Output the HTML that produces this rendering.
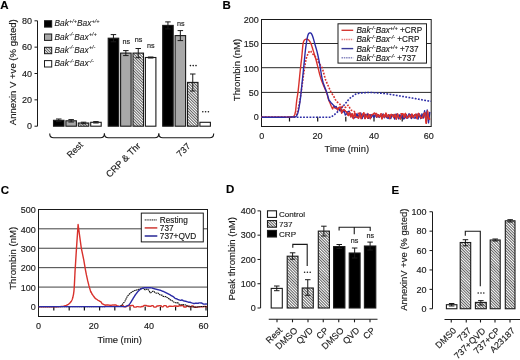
<!DOCTYPE html><html><head><meta charset="utf-8"><style>html,body{margin:0;padding:0;background:#fff;width:520px;height:360px;overflow:hidden;position:relative}</style></head><body><svg width="520" height="360" viewBox="0 0 520 360" style="position:absolute;left:0;top:0;will-change:transform">
<defs><pattern id="hatch" patternUnits="userSpaceOnUse" width="2.0" height="2.0" patternTransform="rotate(-45)"><rect width="2.0" height="2.0" fill="#fff"/><line x1="0.5" y1="0" x2="0.5" y2="2.0" stroke="#1a1a1a" stroke-width="0.7"/></pattern></defs>
<g font-family='"Liberation Sans", sans-serif' stroke-linecap="butt">
<text x="0.3" y="9.2" font-size="11.5" text-anchor="start" font-weight="bold" font-style="normal" fill="#000" stroke="#000" stroke-width="0.15">A</text>
<line x1="37.5" y1="20.8" x2="37.5" y2="126.2" stroke="#1a1a1a" stroke-width="1"/>
<line x1="34.5" y1="126.2" x2="37.5" y2="126.2" stroke="#1a1a1a" stroke-width="1"/>
<text x="32" y="129.4" font-size="9" text-anchor="end" font-weight="normal" font-style="normal" fill="#1a1a1a" stroke="#1a1a1a" stroke-width="0.15">0</text>
<line x1="34.5" y1="99.85" x2="37.5" y2="99.85" stroke="#1a1a1a" stroke-width="1"/>
<text x="32" y="103.05" font-size="9" text-anchor="end" font-weight="normal" font-style="normal" fill="#1a1a1a" stroke="#1a1a1a" stroke-width="0.15">20</text>
<line x1="34.5" y1="73.5" x2="37.5" y2="73.5" stroke="#1a1a1a" stroke-width="1"/>
<text x="32" y="76.7" font-size="9" text-anchor="end" font-weight="normal" font-style="normal" fill="#1a1a1a" stroke="#1a1a1a" stroke-width="0.15">40</text>
<line x1="34.5" y1="47.15" x2="37.5" y2="47.15" stroke="#1a1a1a" stroke-width="1"/>
<text x="32" y="50.35" font-size="9" text-anchor="end" font-weight="normal" font-style="normal" fill="#1a1a1a" stroke="#1a1a1a" stroke-width="0.15">60</text>
<line x1="34.5" y1="20.8" x2="37.5" y2="20.8" stroke="#1a1a1a" stroke-width="1"/>
<text x="32" y="24" font-size="9" text-anchor="end" font-weight="normal" font-style="normal" fill="#1a1a1a" stroke="#1a1a1a" stroke-width="0.15">80</text>
<text x="15.8" y="72.2" font-size="9.55" text-anchor="middle" font-weight="normal" font-style="normal" fill="#1a1a1a" stroke="#1a1a1a" stroke-width="0.15" transform="rotate(-90 15.8 72.2)">Annexin V +ve (% gated)</text>
<rect x="44.5" y="20.7" width="7.2" height="6.4" fill="#000" stroke="#1a1a1a" stroke-width="1"/>
<text x="54.5" y="26.2" font-size="8.4" text-anchor="start" font-weight="normal" font-style="italic" fill="#1a1a1a" stroke="#1a1a1a" stroke-width="0.08">Bak<tspan dy="-3.6" font-size="5.6">+/+</tspan><tspan dy="3.6">Bax</tspan><tspan dy="-3.6" font-size="5.6">+/+</tspan></text>
<rect x="44.5" y="34" width="7.2" height="6.4" fill="#a8a8a8" stroke="#1a1a1a" stroke-width="1"/>
<text x="54.5" y="39.5" font-size="8.4" text-anchor="start" font-weight="normal" font-style="italic" fill="#1a1a1a" stroke="#1a1a1a" stroke-width="0.08">Bak<tspan dy="-3.6" font-size="5.6">-/-</tspan><tspan dy="3.6">Bax</tspan><tspan dy="-3.6" font-size="5.6">+/+</tspan></text>
<rect x="44.5" y="47.3" width="7.2" height="6.4" fill="url(#hatch)" stroke="#1a1a1a" stroke-width="1"/>
<text x="54.5" y="52.8" font-size="8.4" text-anchor="start" font-weight="normal" font-style="italic" fill="#1a1a1a" stroke="#1a1a1a" stroke-width="0.08">Bak<tspan dy="-3.6" font-size="5.6">-/-</tspan><tspan dy="3.6">Bax</tspan><tspan dy="-3.6" font-size="5.6">+/-</tspan></text>
<rect x="44.5" y="60.6" width="7.2" height="6.4" fill="#fff" stroke="#1a1a1a" stroke-width="1"/>
<text x="54.5" y="66.1" font-size="8.4" text-anchor="start" font-weight="normal" font-style="italic" fill="#1a1a1a" stroke="#1a1a1a" stroke-width="0.08">Bak<tspan dy="-3.6" font-size="5.6">-/-</tspan><tspan dy="3.6">Bax</tspan><tspan dy="-3.6" font-size="5.6">-/-</tspan></text>
<rect x="53.5" y="120.3" width="10.5" height="5.9" fill="#000" stroke="#1a1a1a" stroke-width="1.1"/>
<line x1="58.75" y1="119" x2="58.75" y2="121.6" stroke="#1a1a1a" stroke-width="1"/>
<line x1="56" y1="119" x2="61.5" y2="119" stroke="#1a1a1a" stroke-width="1"/>
<line x1="56" y1="121.6" x2="61.5" y2="121.6" stroke="#1a1a1a" stroke-width="1"/>
<rect x="65.9" y="120.8" width="10.5" height="5.4" fill="#a8a8a8" stroke="#1a1a1a" stroke-width="1.1"/>
<line x1="71.15" y1="119.6" x2="71.15" y2="122" stroke="#1a1a1a" stroke-width="1"/>
<line x1="68.4" y1="119.6" x2="73.9" y2="119.6" stroke="#1a1a1a" stroke-width="1"/>
<line x1="68.4" y1="122" x2="73.9" y2="122" stroke="#1a1a1a" stroke-width="1"/>
<rect x="78.3" y="123" width="10.5" height="3.2" fill="url(#hatch)" stroke="#1a1a1a" stroke-width="1.1"/>
<line x1="83.55" y1="122.2" x2="83.55" y2="123.8" stroke="#1a1a1a" stroke-width="1"/>
<line x1="80.8" y1="122.2" x2="86.3" y2="122.2" stroke="#1a1a1a" stroke-width="1"/>
<line x1="80.8" y1="123.8" x2="86.3" y2="123.8" stroke="#1a1a1a" stroke-width="1"/>
<rect x="90.7" y="122.3" width="10.5" height="3.9" fill="#fff" stroke="#1a1a1a" stroke-width="1.1"/>
<line x1="95.95" y1="121.6" x2="95.95" y2="123" stroke="#1a1a1a" stroke-width="1"/>
<line x1="93.2" y1="121.6" x2="98.7" y2="121.6" stroke="#1a1a1a" stroke-width="1"/>
<line x1="93.2" y1="123" x2="98.7" y2="123" stroke="#1a1a1a" stroke-width="1"/>
<rect x="108.2" y="38.2" width="10.5" height="88" fill="#000" stroke="#1a1a1a" stroke-width="1.1"/>
<line x1="113.45" y1="34.6" x2="113.45" y2="41.8" stroke="#1a1a1a" stroke-width="1"/>
<line x1="110.7" y1="34.6" x2="116.2" y2="34.6" stroke="#1a1a1a" stroke-width="1"/>
<line x1="110.7" y1="41.8" x2="116.2" y2="41.8" stroke="#1a1a1a" stroke-width="1"/>
<rect x="120.6" y="53.1" width="10.5" height="73.1" fill="#a8a8a8" stroke="#1a1a1a" stroke-width="1.1"/>
<line x1="125.85" y1="50.6" x2="125.85" y2="55.6" stroke="#1a1a1a" stroke-width="1"/>
<line x1="123.1" y1="50.6" x2="128.6" y2="50.6" stroke="#1a1a1a" stroke-width="1"/>
<line x1="123.1" y1="55.6" x2="128.6" y2="55.6" stroke="#1a1a1a" stroke-width="1"/>
<rect x="133" y="53.1" width="10.5" height="73.1" fill="url(#hatch)" stroke="#1a1a1a" stroke-width="1.1"/>
<line x1="138.25" y1="48.5" x2="138.25" y2="57.7" stroke="#1a1a1a" stroke-width="1"/>
<line x1="135.5" y1="48.5" x2="141" y2="48.5" stroke="#1a1a1a" stroke-width="1"/>
<line x1="135.5" y1="57.7" x2="141" y2="57.7" stroke="#1a1a1a" stroke-width="1"/>
<rect x="145.4" y="57.5" width="10.5" height="68.7" fill="#fff" stroke="#1a1a1a" stroke-width="1.1"/>
<line x1="150.65" y1="57" x2="150.65" y2="58" stroke="#1a1a1a" stroke-width="1"/>
<line x1="147.9" y1="57" x2="153.4" y2="57" stroke="#1a1a1a" stroke-width="1"/>
<line x1="147.9" y1="58" x2="153.4" y2="58" stroke="#1a1a1a" stroke-width="1"/>
<rect x="162.7" y="25.4" width="10.5" height="100.8" fill="#000" stroke="#1a1a1a" stroke-width="1.1"/>
<line x1="167.95" y1="21.9" x2="167.95" y2="28.9" stroke="#1a1a1a" stroke-width="1"/>
<line x1="165.2" y1="21.9" x2="170.7" y2="21.9" stroke="#1a1a1a" stroke-width="1"/>
<line x1="165.2" y1="28.9" x2="170.7" y2="28.9" stroke="#1a1a1a" stroke-width="1"/>
<rect x="175.1" y="35.6" width="10.5" height="90.6" fill="#a8a8a8" stroke="#1a1a1a" stroke-width="1.1"/>
<line x1="180.35" y1="30.6" x2="180.35" y2="40.6" stroke="#1a1a1a" stroke-width="1"/>
<line x1="177.6" y1="30.6" x2="183.1" y2="30.6" stroke="#1a1a1a" stroke-width="1"/>
<line x1="177.6" y1="40.6" x2="183.1" y2="40.6" stroke="#1a1a1a" stroke-width="1"/>
<rect x="187.5" y="82.4" width="10.5" height="43.8" fill="url(#hatch)" stroke="#1a1a1a" stroke-width="1.1"/>
<line x1="192.75" y1="74" x2="192.75" y2="91" stroke="#1a1a1a" stroke-width="1"/>
<line x1="190" y1="74" x2="195.5" y2="74" stroke="#1a1a1a" stroke-width="1"/>
<line x1="190" y1="91" x2="195.5" y2="91" stroke="#1a1a1a" stroke-width="1"/>
<rect x="199.9" y="122.3" width="10.5" height="3.9" fill="#fff" stroke="#1a1a1a" stroke-width="1.1"/>
<text x="126.3" y="43.7" font-size="7.2" text-anchor="middle" font-weight="normal" font-style="normal" fill="#1a1a1a" stroke="#1a1a1a" stroke-width="0.15">ns</text>
<text x="138.6" y="41.9" font-size="7.2" text-anchor="middle" font-weight="normal" font-style="normal" fill="#1a1a1a" stroke="#1a1a1a" stroke-width="0.15">ns</text>
<text x="150.7" y="48.1" font-size="7.2" text-anchor="middle" font-weight="normal" font-style="normal" fill="#1a1a1a" stroke="#1a1a1a" stroke-width="0.15">ns</text>
<text x="180.8" y="25.6" font-size="7.2" text-anchor="middle" font-weight="normal" font-style="normal" fill="#1a1a1a" stroke="#1a1a1a" stroke-width="0.15">ns</text>
<circle cx="190.4" cy="65.6" r="0.8" fill="#1a1a1a"/>
<circle cx="193.2" cy="65.6" r="0.8" fill="#1a1a1a"/>
<circle cx="196" cy="65.6" r="0.8" fill="#1a1a1a"/>
<circle cx="202.8" cy="111.7" r="0.8" fill="#1a1a1a"/>
<circle cx="205.6" cy="111.7" r="0.8" fill="#1a1a1a"/>
<circle cx="208.4" cy="111.7" r="0.8" fill="#1a1a1a"/>
<path d="M49.7 133.4 Q49.7 137.7 53.7 137.7 L100.4 137.7 Q104.4 137.7 104.4 133.4" fill="none" stroke="#1a1a1a" stroke-width="1.1"/>
<path d="M104.4 133.4 Q104.4 137.7 108.4 137.7 L154.8 137.7 Q158.8 137.7 158.8 133.4" fill="none" stroke="#1a1a1a" stroke-width="1.1"/>
<path d="M158.8 133.4 Q158.8 137.7 162.8 137.7 L209.7 137.7 Q213.7 137.7 213.7 133.4" fill="none" stroke="#1a1a1a" stroke-width="1.1"/>
<text x="83.5" y="145.5" font-size="9" text-anchor="end" font-weight="normal" font-style="normal" fill="#1a1a1a" stroke="#1a1a1a" stroke-width="0.15" transform="rotate(-45 83.5 145.5)">Rest</text>
<text x="141.2" y="146.5" font-size="9.3" text-anchor="end" font-weight="normal" font-style="normal" fill="#1a1a1a" stroke="#1a1a1a" stroke-width="0.15" transform="rotate(-45 141.2 146.5)">CRP &amp; Thr</text>
<text x="191" y="146.8" font-size="9" text-anchor="end" font-weight="normal" font-style="normal" fill="#1a1a1a" stroke="#1a1a1a" stroke-width="0.15" transform="rotate(-45 191 146.8)">737</text>
<text x="222.5" y="9.2" font-size="11.5" text-anchor="start" font-weight="bold" font-style="normal" fill="#000" stroke="#000" stroke-width="0.15">B</text>
<line x1="261.5" y1="43.5" x2="431.2" y2="43.5" stroke="#2a2a2a" stroke-width="1"/>
<line x1="261.5" y1="67.7" x2="431.2" y2="67.7" stroke="#2a2a2a" stroke-width="1"/>
<line x1="261.5" y1="92.4" x2="431.2" y2="92.4" stroke="#2a2a2a" stroke-width="1"/>
<rect x="261.5" y="19.5" width="169.7" height="107.0" fill="none" stroke="#1a1a1a" stroke-width="1"/>
<text x="258.8" y="120.4" font-size="9" text-anchor="end" font-weight="normal" font-style="normal" fill="#1a1a1a" stroke="#1a1a1a" stroke-width="0.15">0</text>
<text x="258.8" y="96.03" font-size="9" text-anchor="end" font-weight="normal" font-style="normal" fill="#1a1a1a" stroke="#1a1a1a" stroke-width="0.15">50</text>
<text x="258.8" y="71.65" font-size="9" text-anchor="end" font-weight="normal" font-style="normal" fill="#1a1a1a" stroke="#1a1a1a" stroke-width="0.15">100</text>
<text x="258.8" y="47.28" font-size="9" text-anchor="end" font-weight="normal" font-style="normal" fill="#1a1a1a" stroke="#1a1a1a" stroke-width="0.15">150</text>
<text x="258.8" y="22.9" font-size="9" text-anchor="end" font-weight="normal" font-style="normal" fill="#1a1a1a" stroke="#1a1a1a" stroke-width="0.15">200</text>
<line x1="289.5" y1="116.8" x2="289.5" y2="121.5" stroke="#111" stroke-width="1.2"/>
<line x1="317.7" y1="116.8" x2="317.7" y2="121.5" stroke="#111" stroke-width="1.2"/>
<line x1="345.8" y1="116.8" x2="345.8" y2="121.5" stroke="#111" stroke-width="1.2"/>
<line x1="374" y1="116.8" x2="374" y2="121.5" stroke="#111" stroke-width="1.2"/>
<line x1="402.2" y1="116.8" x2="402.2" y2="121.5" stroke="#111" stroke-width="1.2"/>
<text x="261.7" y="139.1" font-size="9" text-anchor="middle" font-weight="normal" font-style="normal" fill="#1a1a1a" stroke="#1a1a1a" stroke-width="0.15">0</text>
<text x="317.5" y="139.1" font-size="9" text-anchor="middle" font-weight="normal" font-style="normal" fill="#1a1a1a" stroke="#1a1a1a" stroke-width="0.15">20</text>
<text x="374" y="139.1" font-size="9" text-anchor="middle" font-weight="normal" font-style="normal" fill="#1a1a1a" stroke="#1a1a1a" stroke-width="0.15">40</text>
<text x="428.8" y="139.1" font-size="9" text-anchor="middle" font-weight="normal" font-style="normal" fill="#1a1a1a" stroke="#1a1a1a" stroke-width="0.15">60</text>
<text x="346.8" y="152.3" font-size="9.4" text-anchor="middle" font-weight="normal" font-style="normal" fill="#1a1a1a" stroke="#1a1a1a" stroke-width="0.15">Time (min)</text>
<text x="239.5" y="70" font-size="9.5" text-anchor="middle" font-weight="normal" font-style="normal" fill="#1a1a1a" stroke="#1a1a1a" stroke-width="0.15" transform="rotate(-90 239.5 70)">Thrombin (nM)</text>
<path d="M261.5 117.2 L262 117.2 L262.5 117.2 L263 117.2 L263.5 117.2 L264 117.2 L264.5 117.2 L265 117.2 L265.5 117.2 L266 117.2 L266.5 117.2 L267 117.2 L267.5 117.2 L268 117.2 L268.5 117.2 L269 117.2 L269.5 117.2 L270 117.2 L270.5 117.2 L271 117.2 L271.5 117.2 L272 117.2 L272.5 117.2 L273 117.2 L273.5 117.2 L274 117.2 L274.5 117.2 L275 117.2 L275.5 117.2 L276 117.2 L276.5 117.2 L277 117.2 L277.5 117.2 L278 117.2 L278.5 117.2 L279 117.2 L279.5 117.2 L280 117.2 L280.5 117.2 L281 117.2 L281.5 117.2 L282 117.2 L282.5 117.2 L283 117.2 L283.5 117.2 L284 117.2 L284.5 117.2 L285 117.2 L285.5 117.2 L286 117.2 L286.5 117.2 L287 117.2 L287.5 117.2 L288 117.2 L288.5 117.2 L289 117.2 L289.5 117.2 L290 117.2 L290.5 117.2 L291 117.2 L291.5 117.2 L292 117.2 L292.5 117.2 L293 117.2 L293.5 117.2 L294 117.2 L294.5 117.2 L295 117.2 L295.5 117.2 L296 117.2 L296.5 117.2 L297 117.2 L297.5 117.2 L298 117.2 L298.5 117.2 L299 117.2 L299.5 117.2 L300 117.2 L300.5 117.2 L301 117.2 L301.5 117.2 L302 117.2 L302.5 117.2 L303 117.2 L303.5 117.2 L304 117.2 L304.5 117.2 L305 117.2 L305.5 117.2 L306 117.2 L306.5 117.2 L307 117.2 L307.5 117.2 L308 117.2 L308.5 117.2 L309 117.2 L309.5 117.2 L310 117.2 L310.5 117.2 L311 117.2 L311.5 117.2 L312 117.2 L312.5 117.2 L313 117.2 L313.5 117.2 L314 117.2 L314.5 117.2 L315 117.2 L315.5 117.2 L316 117.2 L316.5 117.2 L317 117.2 L317.5 117.2 L318 117.2 L318.5 117.2 L319 117.2 L319.5 117.2 L320 117.2 L320.5 117.2 L321 117.2 L321.5 117.2 L322 117.2 L322.5 117.2 L323 117.2 L323.5 117.2 L324 117.2 L324.5 117.2 L325 117.2 L325.5 117.2 L326 117.2 L326.5 117.2 L327 117.2 L327.5 117.2 L328 117.2 L328.5 117.2 L329 117.2 L329.5 117.2 L330 117.2 L330.5 117.2 L331 117.2 L331.5 116.83 L332 116.46 L332.5 116.1 L333 115.73 L333.5 115.36 L334 114.99 L334.5 114.61 L335 114.16 L335.5 113.71 L336 113.26 L336.5 112.81 L337 112.36 L337.5 111.91 L338 111.46 L338.5 111.01 L339 110.56 L339.5 110.09 L340 109.54 L340.5 108.99 L341 108.44 L341.5 107.89 L342 107.34 L342.5 106.79 L343 106.24 L343.5 105.69 L344 105.14 L344.5 104.58 L345 103.97 L345.5 103.36 L346 102.75 L346.5 102.14 L347 101.53 L347.5 100.92 L348 100.31 L348.5 99.7 L349 99.09 L349.5 98.53 L350 98.16 L350.5 97.8 L351 97.44 L351.5 97.08 L352 96.71 L352.5 96.35 L353 95.99 L353.5 95.62 L354 95.26 L354.5 94.9 L355 94.54 L355.5 94.17 L356 94 L356.5 93.88 L357 93.75 L357.5 93.62 L358 93.5 L358.5 93.38 L359 93.25 L359.5 93.12 L360 93 L360.5 92.97 L361 92.94 L361.5 92.91 L362 92.88 L362.5 92.85 L363 92.82 L363.5 92.79 L364 92.76 L364.5 92.73 L365 92.7 L365.5 92.67 L366 92.64 L366.5 92.61 L367 92.58 L367.5 92.55 L368 92.52 L368.5 92.49 L369 92.46 L369.5 92.43 L370 92.4 L370.5 92.44 L371 92.47 L371.5 92.51 L372 92.55 L372.5 92.58 L373 92.62 L373.5 92.66 L374 92.69 L374.5 92.73 L375 92.77 L375.5 92.8 L376 92.84 L376.5 92.88 L377 92.91 L377.5 92.95 L378 92.99 L378.5 93.02 L379 93.06 L379.5 93.1 L380 93.13 L380.5 93.17 L381 93.21 L381.5 93.24 L382 93.28 L382.5 93.32 L383 93.35 L383.5 93.39 L384 93.43 L384.5 93.46 L385 93.5 L385.5 93.58 L386 93.67 L386.5 93.75 L387 93.83 L387.5 93.92 L388 94 L388.5 94.08 L389 94.17 L389.5 94.25 L390 94.33 L390.5 94.42 L391 94.5 L391.5 94.58 L392 94.67 L392.5 94.75 L393 94.83 L393.5 94.92 L394 95 L394.5 95.08 L395 95.17 L395.5 95.25 L396 95.33 L396.5 95.42 L397 95.5 L397.5 95.58 L398 95.67 L398.5 95.75 L399 95.83 L399.5 95.92 L400 96 L400.5 96.08 L401 96.17 L401.5 96.25 L402 96.33 L402.5 96.42 L403 96.5 L403.5 96.58 L404 96.67 L404.5 96.75 L405 96.83 L405.5 96.92 L406 97 L406.5 97.08 L407 97.17 L407.5 97.25 L408 97.33 L408.5 97.42 L409 97.5 L409.5 97.58 L410 97.67 L410.5 97.75 L411 97.83 L411.5 97.92 L412 98 L412.5 98.08 L413 98.17 L413.5 98.25 L414 98.33 L414.5 98.42 L415 98.5 L415.5 98.59 L416 98.69 L416.5 98.78 L417 98.88 L417.5 98.97 L418 99.07 L418.5 99.17 L419 99.26 L419.5 99.36 L420 99.45 L420.5 99.55 L421 99.64 L421.5 99.73 L422 99.83 L422.5 99.93 L423 100.02 L423.5 100.12 L424 100.21 L424.5 100.31 L425 100.4 L425.5 100.48 L426 100.55 L426.5 100.62 L427 100.7 L427.5 100.78 L428 100.85 L428.5 100.92 L429 101 L429.5 101.08 L430 101.15 L430.5 101.22 L431 101.3" fill="none" stroke="#2b2ba6" stroke-width="1.6" stroke-linejoin="round" stroke-dasharray="1.8 1.4"/>
<path d="M261.5 117.2 L261.75 117.2 L262.25 117.2 L262.75 117.2 L263.25 117.2 L263.75 117.2 L264.25 117.2 L264.75 117.2 L265.25 117.2 L265.75 117.2 L266.25 117.2 L266.75 117.2 L267.25 117.2 L267.75 117.2 L268.25 117.2 L268.75 117.2 L269.25 117.2 L269.75 117.2 L270.25 117.2 L270.75 117.2 L271.25 117.2 L271.75 117.2 L272.25 117.2 L272.75 117.2 L273.25 117.2 L273.75 117.2 L274.25 117.2 L274.75 117.2 L275.25 117.2 L275.75 117.2 L276.25 117.2 L276.75 117.2 L277.25 117.2 L277.75 117.2 L278.25 117.2 L278.75 117.2 L279.25 117.2 L279.75 117.2 L280.25 117.2 L280.75 117.2 L281.25 117.2 L281.75 117.2 L282.25 117.2 L282.75 117.2 L283.25 117.2 L283.75 117.2 L284.25 117.2 L284.75 117.2 L285.25 117.2 L285.75 117.2 L286.25 117.2 L286.75 117.2 L287.25 117.2 L287.75 117.2 L288.25 117.2 L288.75 117.2 L289.25 117.2 L289.75 117.2 L290.25 117.2 L290.75 117.2 L291.25 117.2 L291.75 117.2 L292.25 117.2 L292.75 117.2 L293.25 117.2 L293.75 117.02 L294.25 116.65 L294.75 116.28 L295.25 115.92 L295.75 115.55 L296.25 115.18 L296.75 114.1 L297.25 112.3 L297.75 110.5 L298.25 108.7 L298.75 106.55 L299.25 104.05 L299.75 101.2 L300.25 98 L300.75 94.8 L301.25 91.6 L301.75 88.12 L302.25 84.38 L302.75 80.62 L303.25 76.88 L303.75 73.38 L304.25 70.12 L304.75 66.88 L305.25 63.62 L305.75 60.85 L306.25 58.55 L306.75 56.79 L307.25 55.55 L307.75 54.41 L308.25 53.35 L308.75 52.38 L309.25 51.5 L309.75 50.97 L310.25 50.8 L310.75 51.16 L311.25 52.05 L311.75 52.78 L312.25 53.34 L312.75 53.91 L313.25 54.47 L313.75 55.03 L314.25 55.59 L314.75 56.16 L315.25 56.72 L315.75 57.33 L316.25 57.99 L316.75 58.84 L317.25 59.89 L317.75 60.93 L318.25 61.98 L318.75 62.84 L319.25 63.53 L319.75 64.22 L320.25 64.91 L320.75 65.6 L321.25 66.29 L321.75 67.15 L322.25 68.18 L322.75 69.61 L323.25 71.43 L323.75 73.25 L324.25 75.08 L324.75 76.9 L325.25 78.72 L325.75 80.23 L326.25 81.43 L326.75 82.6 L327.25 83.73 L327.75 84.86 L328.25 85.99 L328.75 87.12 L329.25 88.25 L329.75 89.38 L330.25 90.51 L330.75 91.55 L331.25 92.51 L331.75 93.38 L332.25 94.16 L332.75 94.94 L333.25 95.73 L333.75 96.51 L334.25 97.29 L334.75 98.23 L335.25 99.31 L335.75 100.24 L336.25 101.02 L336.75 101.62 L337.25 102.04 L337.75 102.46 L338.25 102.88 L338.75 103.3 L339.25 103.74 L339.75 104.17 L340.25 104.61 L340.75 105.04 L341.25 105.48 L341.75 105.87 L342.25 106.23 L342.75 106.5 L343.25 106.68 L343.75 106.86 L344.25 107.05 L344.75 107.22 L345.25 107.38 L345.75 107.24 L346.25 106.81 L346.75 106.33 L347.25 105.81 L347.75 105.45 L348.25 105.25 L348.75 105.71 L349.25 106.82 L349.75 107.83 L350.25 108.73 L350.75 109.51 L351.25 110.16 L351.75 110.49 L352.25 110.51 L352.75 110.64 L353.25 110.86 L353.75 111.11 L354.25 111.4 L354.75 112.32 L355.25 113.88 L355.75 114.31 L356.25 113.63 L356.75 113.29 L357.25 113.3 L357.75 113.29 L358.25 113.27 L358.75 113.83 L359.25 114.98 L359.75 115.56 L360.25 115.57 L360.75 115.19 L361.25 114.41 L361.75 114.3 L362.25 114.86 L362.75 115.14 L363.25 115.15 L363.75 114.89 L364.25 114.36 L364.75 114.23 L365.25 114.48 L365.75 114.61 L366.25 114.62 L366.75 114.27 L367.25 113.54 L367.75 113.55 L368.25 114.29 L368.75 114.66 L369.25 114.67 L369.75 114.85 L370.25 115.21 L370.75 115.14 L371.25 114.63 L371.75 114.38 L372.25 114.39 L372.75 114.57 L373.25 114.91 L373.75 115.03 L374.25 114.93 L374.75 114.89 L375.25 114.9 L375.75 114.45 L376.25 113.55 L376.75 113.63 L377.25 114.68 L377.75 115.21 L378.25 115.22 L378.75 115.1 L379.25 114.86 L379.75 114.53 L380.25 114.11 L380.75 113.9 L381.25 113.91 L381.75 113.72 L382.25 113.32 L382.75 113.75 L383.25 115.02 L383.75 115.65 L384.25 115.66 L384.75 115.38 L385.25 114.8 L385.75 114.7 L386.25 115.08 L386.75 115.27 L387.25 115.28 L387.75 115.41 L388.25 115.66 L388.75 115.67 L389.25 115.43 L389.75 115.32 L390.25 115.33 L390.75 115.49 L391.25 115.81 L391.75 115.58 L392.25 114.8 L392.75 114.42 L393.25 114.43 L393.75 114.74 L394.25 115.36 L394.75 115.41 L395.25 114.89 L395.75 114.63 L396.25 114.64 L396.75 115.02 L397.25 115.76 L397.75 116.1 L398.25 116.02 L398.75 115.99 L399.25 116 L399.75 115.43 L400.25 114.26 L400.75 113.72 L401.25 113.78 L401.75 113.82 L402.25 113.83 L402.75 113.9 L403.25 114.04 L403.75 114.67 L404.25 115.8 L404.75 116.37 L405.25 116.38 L405.75 115.99 L406.25 115.21 L406.75 114.97 L407.25 115.26 L407.75 115.41 L408.25 115.42 L408.75 115.19 L409.25 114.71 L409.75 114.63 L410.25 114.95 L410.75 115.12 L411.25 115.13 L411.75 115.05 L412.25 114.87 L412.75 114.77 L413.25 114.72 L413.75 114.71 L414.25 114.72 L414.75 114.9 L415.25 115.26 L415.75 115.45 L416.25 115.46 L416.75 115.47 L417.25 115.48 L417.75 115.73 L418.25 116.22 L418.75 116.3 L419.25 115.98 L419.75 115.82 L420.25 115.83 L420.75 116.03 L421.25 116.41 L421.75 116.55 L422.25 116.45 L422.75 116.4 L423.25 116.41 L423.75 116.53 L424.25 116.74 L424.75 116.61 L425.25 116.14 L425.75 115.91 L426.25 115.92 L426.75 115.55 L427.25 114.8 L427.75 114.95 L428.25 116 L428.75 116.54 L429.25 116.55 L429.75 116.63 L430.25 116.8 L430.5 116.88" fill="none" stroke="#d8312c" stroke-width="1.6" stroke-linejoin="round" stroke-dasharray="1.8 1.4"/>
<path d="M261.5 117.2 L261.98 117.2 L262.93 117.2 L264.36 117.2 L266.27 117.2 L268.65 117.2 L271.51 117.2 L274.84 117.2 L278.66 117.2 L282.02 117.18 L284.95 117.15 L287.42 117.11 L289.45 117.04 L291.04 116.97 L292.18 116.87 L292.88 116.76 L293.12 116.64 L293.37 116.47 L293.6 116.26 L293.83 116.01 L294.05 115.72 L294.26 115.38 L294.46 115 L294.66 114.58 L294.84 114.12 L295.03 113.52 L295.2 112.78 L295.38 111.91 L295.55 110.89 L295.71 109.74 L295.87 108.46 L296.03 107.03 L296.18 105.47 L296.33 103.98 L296.48 102.56 L296.64 101.22 L296.81 99.95 L296.97 98.76 L297.14 97.64 L297.31 96.59 L297.49 95.61 L297.68 94.38 L297.88 92.88 L298.11 91.11 L298.34 89.09 L298.6 86.8 L298.87 84.25 L299.15 81.44 L299.45 78.36 L299.73 75.52 L299.99 72.92 L300.24 70.54 L300.46 68.41 L300.67 66.5 L300.86 64.83 L301.03 63.4 L301.18 62.2 L301.32 61.02 L301.45 59.87 L301.58 58.75 L301.7 57.65 L301.81 56.58 L301.91 55.52 L302.01 54.5 L302.09 53.5 L302.18 52.52 L302.26 51.57 L302.35 50.64 L302.43 49.73 L302.51 48.85 L302.59 47.99 L302.66 47.16 L302.74 46.34 L302.82 45.59 L302.9 44.89 L302.99 44.24 L303.08 43.66 L303.18 43.12 L303.29 42.65 L303.39 42.23 L303.51 41.87 L303.63 41.53 L303.75 41.22 L303.89 40.93 L304.03 40.67 L304.19 40.43 L304.35 40.22 L304.51 40.03 L304.69 39.87 L304.87 39.72 L305.05 39.6 L305.24 39.48 L305.43 39.39 L305.63 39.31 L305.84 39.25 L306.04 39.21 L306.26 39.19 L306.47 39.18 L306.68 39.18 L306.88 39.2 L307.09 39.23 L307.3 39.27 L307.5 39.33 L307.7 39.41 L307.9 39.49 L308.1 39.6 L308.29 39.73 L308.48 39.88 L308.67 40.05 L308.85 40.24 L309.03 40.45 L309.21 40.67 L309.39 40.92 L309.56 41.18 L309.73 41.43 L309.89 41.69 L310.06 41.96 L310.22 42.22 L310.37 42.49 L310.53 42.76 L310.68 43.04 L310.84 43.4 L311.03 43.84 L311.23 44.36 L311.45 44.97 L311.68 45.65 L311.94 46.43 L312.21 47.28 L312.49 48.22 L312.79 49.17 L313.08 50.14 L313.38 51.12 L313.69 52.12 L314 53.14 L314.32 54.17 L314.64 55.22 L314.96 56.28 L315.28 57.33 L315.58 58.36 L315.87 59.38 L316.15 60.39 L316.42 61.38 L316.68 62.36 L316.93 63.32 L317.17 64.27 L317.43 65.3 L317.7 66.4 L317.99 67.57 L318.31 68.82 L318.64 70.15 L318.99 71.55 L319.36 73.03 L319.74 74.57 L320.17 76.12 L320.63 77.67 L321.13 79.22 L321.67 80.76 L322.24 82.3 L322.86 83.84 L323.51 85.38 L324.19 86.92 L324.83 88.38 L325.4 89.78 L325.93 91.1 L326.4 92.35 L326.81 93.53 L327.17 94.63 L327.48 95.67 L327.73 96.63 L327.94 97.47 L328.13 98.2 L328.29 98.8 L328.41 99.28 L328.51 99.64 L328.57 99.88 L328.6 100 L330 102.95 L331.3 106.22 L332.6 108.93 L333.9 105.81 L335.2 108.48 L336.5 107.63 L337.8 109.85 L339.1 107.45 L340.4 107.22 L341.7 113.05 L343 110.12 L344.3 109.92 L345.6 111.21 L346.9 112.13 L348.2 115.53 L349.5 112.33 L350.8 116.88 L352.1 113.64 L353.4 118.51 L354.7 112.87 L356 117.11 L357.3 117.07 L358.6 118.09 L359.9 112.92 L361.2 118.53 L362.5 114.73 L363.8 112.84 L365.1 118.62 L366.4 114.63 L367.7 118.23 L369 114.63 L370.3 118.66 L371.6 114.6 L372.9 114.65 L374.2 113.21 L375.5 113.72 L376.8 117.11 L378.1 114.66 L379.4 116.99 L380.7 114.52 L382 118.82 L383.3 114.36 L384.6 117.26 L385.9 113.23 L387.2 117.06 L388.5 114.61 L389.8 118.5 L391.1 114.47 L392.4 114.92 L393.7 117.44 L395 114.36 L396.3 118.97 L397.6 113.97 L398.9 117.38 L400.2 118.92 L401.5 114.7 L402.8 113.69 L404.1 117.47 L405.4 113.42 L406.7 117.98 L408 117.19 L409.3 114.82 L410.6 117.68 L411.9 114.11 L413.2 117.54 L414.5 115.25 L415.8 114.23 L417.1 118.51 L418.4 113.51 L419.7 115.42 L421 118.21 L422.3 117.66 L423.6 114.3 L424.9 112.6 L426.2 123.25 L427.5 111.05 L428.8 119.22 L430.1 118.65" fill="none" stroke="#d8312c" stroke-width="1.4" stroke-linejoin="round"/>
<path d="M261.5 117.2 L262.02 117.2 L263.05 117.2 L264.59 117.2 L266.66 117.2 L269.23 117.2 L272.33 117.2 L275.94 117.2 L280.06 117.2 L283.7 117.18 L286.86 117.15 L289.53 117.11 L291.72 117.04 L293.42 116.97 L294.64 116.87 L295.38 116.76 L295.62 116.64 L295.87 116.47 L296.11 116.26 L296.35 116.01 L296.58 115.72 L296.8 115.38 L297.03 115 L297.24 114.58 L297.46 114.12 L297.68 113.52 L297.9 112.78 L298.13 111.91 L298.37 110.89 L298.61 109.74 L298.86 108.46 L299.12 107.03 L299.38 105.47 L299.62 103.98 L299.85 102.56 L300.05 101.22 L300.23 99.95 L300.39 98.76 L300.53 97.64 L300.65 96.59 L300.75 95.61 L300.88 94.38 L301.03 92.88 L301.22 91.11 L301.43 89.09 L301.67 86.8 L301.94 84.25 L302.24 81.44 L302.56 78.36 L302.86 75.52 L303.13 72.92 L303.38 70.54 L303.6 68.41 L303.79 66.5 L303.95 64.83 L304.09 63.4 L304.21 62.2 L304.32 61.02 L304.43 59.87 L304.53 58.75 L304.64 57.65 L304.75 56.58 L304.85 55.52 L304.95 54.5 L305.05 53.5 L305.15 52.52 L305.25 51.57 L305.36 50.64 L305.47 49.73 L305.57 48.85 L305.68 47.99 L305.79 47.16 L305.91 46.34 L306.02 45.54 L306.14 44.74 L306.25 43.95 L306.37 43.17 L306.49 42.4 L306.61 41.63 L306.74 40.88 L306.86 40.12 L306.99 39.41 L307.11 38.73 L307.24 38.09 L307.36 37.48 L307.49 36.91 L307.61 36.38 L307.74 35.88 L307.86 35.42 L308 35 L308.14 34.62 L308.28 34.27 L308.44 33.97 L308.6 33.72 L308.78 33.5 L308.96 33.32 L309.14 33.18 L309.33 33.07 L309.52 32.98 L309.71 32.92 L309.89 32.88 L310.08 32.87 L310.27 32.88 L310.46 32.92 L310.64 32.98 L310.83 33.08 L311 33.2 L311.18 33.37 L311.35 33.56 L311.51 33.79 L311.67 34.05 L311.82 34.34 L311.97 34.66 L312.12 35 L312.27 35.35 L312.42 35.72 L312.56 36.1 L312.7 36.5 L312.84 36.91 L312.98 37.33 L313.12 37.77 L313.26 38.22 L313.39 38.68 L313.53 39.15 L313.67 39.63 L313.81 40.12 L313.94 40.62 L314.08 41.14 L314.22 41.66 L314.38 42.25 L314.56 42.91 L314.76 43.64 L314.99 44.43 L315.23 45.3 L315.5 46.22 L315.79 47.22 L316.11 48.28 L316.41 49.34 L316.69 50.38 L316.97 51.42 L317.23 52.45 L317.48 53.48 L317.72 54.49 L317.94 55.5 L318.16 56.5 L318.36 57.49 L318.57 58.48 L318.77 59.46 L318.96 60.44 L319.15 61.41 L319.33 62.37 L319.51 63.32 L319.69 64.27 L319.87 65.3 L320.06 66.4 L320.26 67.57 L320.47 68.82 L320.68 70.15 L320.9 71.55 L321.13 73.03 L321.37 74.57 L321.62 76.06 L321.89 77.47 L322.17 78.81 L322.46 80.09 L322.77 81.29 L323.09 82.43 L323.43 83.5 L323.78 84.5 L324.11 85.44 L324.43 86.33 L324.73 87.15 L325.02 87.92 L325.29 88.63 L325.55 89.29 L325.79 89.88 L326.01 90.42 L326.24 91.01 L326.48 91.65 L326.72 92.35 L326.96 93.1 L327.21 93.9 L327.46 94.76 L327.72 95.67 L327.98 96.63 L328.21 97.47 L328.41 98.2 L328.57 98.8 L328.7 99.28 L328.8 99.64 L328.87 99.88 L328.9 100 L331 102.69 L332.3 104.06 L333.6 105.38 L334.9 107.19 L336.2 106.39 L337.5 109.78 L338.8 108.21 L340.1 110.98 L341.4 109.54 L342.7 112.28 L344 110.19 L345.3 115.05 L346.6 113.98 L347.9 111.6 L349.2 111.21 L350.5 115.93 L351.8 114.22 L353.1 117.72 L354.4 117.89 L355.7 116.81 L357 113.82 L358.3 117.73 L359.6 113.89 L360.9 113.19 L362.2 118.58 L363.5 114 L364.8 118.01 L366.1 114.54 L367.4 114.03 L368.7 118.31 L370 114.77 L371.3 117.55 L372.6 114.39 L373.9 117.49 L375.2 114.68 L376.5 117.08 L377.8 114.85 L379.1 117.47 L380.4 114.85 L381.7 117.21 L383 113.99 L384.3 117.82 L385.6 114.67 L386.9 117.61 L388.2 118.43 L389.5 115.06 L390.8 118.51 L392.1 114.6 L393.4 115.04 L394.7 119.01 L396 114.1 L397.3 114.5 L398.6 118.74 L399.9 114.72 L401.2 118.03 L402.5 114.69 L403.8 118.93 L405.1 117.68 L406.4 114.7 L407.7 118.19 L409 113.84 L410.3 114.74 L411.6 118.59 L412.9 115.09 L414.2 118.07 L415.5 118.12 L416.8 114.24 L418.1 119.17 L419.4 113.86 L420.7 118.51 L422 113.83 L423.3 118.03 L424.6 110.79 L425.9 118.59 L427.2 110.02 L428.5 122.87 L429.8 111.83" fill="none" stroke="#2b2ba6" stroke-width="1.4" stroke-linejoin="round"/>
<path d="M336.5 107.63 L337.8 109.85 L339.1 107.45 L340.4 107.22 L341.7 113.05 L343 110.12 L344.3 109.92 L345.6 111.21 L346.9 112.13 L348.2 115.53 L349.5 112.33 L350.8 116.88 L352.1 113.64 L353.4 118.51 L354.7 112.87 L356 117.11 L357.3 117.07 L358.6 118.09 L359.9 112.92 L361.2 118.53 L362.5 114.73 L363.8 112.84 L365.1 118.62 L366.4 114.63 L367.7 118.23 L369 114.63 L370.3 118.66 L371.6 114.6 L372.9 114.65 L374.2 113.21 L375.5 113.72 L376.8 117.11 L378.1 114.66 L379.4 116.99 L380.7 114.52 L382 118.82 L383.3 114.36 L384.6 117.26 L385.9 113.23 L387.2 117.06 L388.5 114.61 L389.8 118.5 L391.1 114.47 L392.4 114.92 L393.7 117.44 L395 114.36 L396.3 118.97 L397.6 113.97 L398.9 117.38 L400.2 118.92 L401.5 114.7 L402.8 113.69 L404.1 117.47 L405.4 113.42 L406.7 117.98 L408 117.19 L409.3 114.82 L410.6 117.68 L411.9 114.11 L413.2 117.54 L414.5 115.25 L415.8 114.23 L417.1 118.51 L418.4 113.51 L419.7 115.42 L421 118.21 L422.3 117.66 L423.6 114.3 L424.9 112.6 L426.2 123.25 L427.5 111.05 L428.8 119.22 L430.1 118.65" fill="none" stroke="#d8312c" stroke-width="1.4" stroke-linejoin="round"/>
<rect x="338" y="23.8" width="88.5" height="39.3" fill="#fff" stroke="#1a1a1a" stroke-width="1"/>
<line x1="341.5" y1="30.3" x2="353.2" y2="30.3" stroke="#d43a35" stroke-width="1.4"/>
<text x="356.4" y="33.3" font-size="8.2" text-anchor="start" font-weight="normal" font-style="normal" fill="#1a1a1a" stroke="#1a1a1a" stroke-width="0.15"><tspan font-style="italic">Bak<tspan dy="-3" font-size="5.5">-/-</tspan><tspan dy="3">Bax</tspan><tspan dy="-3" font-size="5.5">+/+</tspan></tspan><tspan dy="3"> +CRP</tspan></text>
<line x1="341.5" y1="39.45" x2="353.2" y2="39.45" stroke="#e88080" stroke-width="1.4" stroke-dasharray="1.5 0.8"/>
<text x="356.4" y="42.45" font-size="8.2" text-anchor="start" font-weight="normal" font-style="normal" fill="#1a1a1a" stroke="#1a1a1a" stroke-width="0.15"><tspan font-style="italic">Bak<tspan dy="-3" font-size="5.5">-/-</tspan><tspan dy="3">Bax</tspan><tspan dy="-3" font-size="5.5">-/-</tspan></tspan><tspan dy="3"> +CRP</tspan></text>
<line x1="341.5" y1="48.6" x2="353.2" y2="48.6" stroke="#3a3a9a" stroke-width="1.4"/>
<text x="356.4" y="51.6" font-size="8.2" text-anchor="start" font-weight="normal" font-style="normal" fill="#1a1a1a" stroke="#1a1a1a" stroke-width="0.15"><tspan font-style="italic">Bak<tspan dy="-3" font-size="5.5">-/-</tspan><tspan dy="3">Bax</tspan><tspan dy="-3" font-size="5.5">+/+</tspan></tspan><tspan dy="3"> +737</tspan></text>
<line x1="341.5" y1="57.75" x2="353.2" y2="57.75" stroke="#8888c0" stroke-width="1.4" stroke-dasharray="1.5 0.8"/>
<text x="356.4" y="60.75" font-size="8.2" text-anchor="start" font-weight="normal" font-style="normal" fill="#1a1a1a" stroke="#1a1a1a" stroke-width="0.15"><tspan font-style="italic">Bak<tspan dy="-3" font-size="5.5">-/-</tspan><tspan dy="3">Bax</tspan><tspan dy="-3" font-size="5.5">-/-</tspan></tspan><tspan dy="3"> +737</tspan></text>
<text x="0.8" y="193.6" font-size="11.5" text-anchor="start" font-weight="bold" font-style="normal" fill="#000" stroke="#000" stroke-width="0.15">C</text>
<line x1="38.5" y1="287.08" x2="207.5" y2="287.08" stroke="#404040" stroke-width="1"/>
<line x1="38.5" y1="267.66" x2="207.5" y2="267.66" stroke="#404040" stroke-width="1"/>
<line x1="38.5" y1="248.24" x2="207.5" y2="248.24" stroke="#404040" stroke-width="1"/>
<line x1="38.5" y1="228.82" x2="207.5" y2="228.82" stroke="#404040" stroke-width="1"/>
<rect x="38.5" y="209.5" width="169.0" height="107.0" fill="none" stroke="#1a1a1a" stroke-width="1"/>
<text x="35.8" y="310.2" font-size="9" text-anchor="end" font-weight="normal" font-style="normal" fill="#1a1a1a" stroke="#1a1a1a" stroke-width="0.15">0</text>
<text x="35.8" y="290.78" font-size="9" text-anchor="end" font-weight="normal" font-style="normal" fill="#1a1a1a" stroke="#1a1a1a" stroke-width="0.15">100</text>
<text x="35.8" y="271.36" font-size="9" text-anchor="end" font-weight="normal" font-style="normal" fill="#1a1a1a" stroke="#1a1a1a" stroke-width="0.15">200</text>
<text x="35.8" y="251.94" font-size="9" text-anchor="end" font-weight="normal" font-style="normal" fill="#1a1a1a" stroke="#1a1a1a" stroke-width="0.15">300</text>
<text x="35.8" y="232.52" font-size="9" text-anchor="end" font-weight="normal" font-style="normal" fill="#1a1a1a" stroke="#1a1a1a" stroke-width="0.15">400</text>
<text x="35.8" y="213.1" font-size="9" text-anchor="end" font-weight="normal" font-style="normal" fill="#1a1a1a" stroke="#1a1a1a" stroke-width="0.15">500</text>
<line x1="53.8" y1="306.5" x2="53.8" y2="310.5" stroke="#111" stroke-width="1.2"/>
<line x1="69.2" y1="306.5" x2="69.2" y2="310.5" stroke="#111" stroke-width="1.2"/>
<line x1="84.4" y1="306.5" x2="84.4" y2="310.5" stroke="#111" stroke-width="1.2"/>
<line x1="99.6" y1="306.5" x2="99.6" y2="310.5" stroke="#111" stroke-width="1.2"/>
<line x1="114.8" y1="306.5" x2="114.8" y2="310.5" stroke="#111" stroke-width="1.2"/>
<line x1="130" y1="306.5" x2="130" y2="310.5" stroke="#111" stroke-width="1.2"/>
<line x1="145.2" y1="306.5" x2="145.2" y2="310.5" stroke="#111" stroke-width="1.2"/>
<line x1="160.4" y1="306.5" x2="160.4" y2="310.5" stroke="#111" stroke-width="1.2"/>
<line x1="175.6" y1="306.5" x2="175.6" y2="310.5" stroke="#111" stroke-width="1.2"/>
<line x1="190.8" y1="306.5" x2="190.8" y2="310.5" stroke="#111" stroke-width="1.2"/>
<line x1="206" y1="306.5" x2="206" y2="310.5" stroke="#111" stroke-width="1.2"/>
<text x="38.5" y="329.2" font-size="9" text-anchor="middle" font-weight="normal" font-style="normal" fill="#1a1a1a" stroke="#1a1a1a" stroke-width="0.15">0</text>
<text x="93.75" y="329.2" font-size="9" text-anchor="middle" font-weight="normal" font-style="normal" fill="#1a1a1a" stroke="#1a1a1a" stroke-width="0.15">20</text>
<text x="149" y="329.2" font-size="9" text-anchor="middle" font-weight="normal" font-style="normal" fill="#1a1a1a" stroke="#1a1a1a" stroke-width="0.15">40</text>
<text x="203.5" y="329.2" font-size="9" text-anchor="middle" font-weight="normal" font-style="normal" fill="#1a1a1a" stroke="#1a1a1a" stroke-width="0.15">60</text>
<text x="119.7" y="342.6" font-size="9.4" text-anchor="middle" font-weight="normal" font-style="normal" fill="#1a1a1a" stroke="#1a1a1a" stroke-width="0.15">Time (min)</text>
<text x="15.8" y="258.3" font-size="9.6" text-anchor="middle" font-weight="normal" font-style="normal" fill="#1a1a1a" stroke="#1a1a1a" stroke-width="0.15" transform="rotate(-90 15.8 258.3)">Thrombin (nM)</text>
<g transform="translate(0,0.6)">
<path d="M38.5 306.3 L39.64 306.3 L41.91 306.3 L45.32 306.3 L49.88 306.3 L53.68 306.26 L56.74 306.19 L59.06 306.07 L60.64 305.93 L62.13 305.72 L63.54 305.47 L64.88 305.18 L66.12 304.82 L67.25 304.38 L68.25 303.83 L69.12 303.18 L69.88 302.43 L70.53 301.68 L71.09 300.93 L71.56 300.18 L71.94 299.43 L72.28 298.59 L72.59 297.68 L72.88 296.69 L73.12 295.61 L73.36 294.45 L73.57 293.2 L73.76 291.86 L73.94 290.44 L74.12 288.32 L74.31 285.51 L74.5 282 L74.7 277.8 L74.85 274.65 L74.95 272.55 L75 271.5 L76.5 247.5 L78.1 223.9 L81.3 247.5 L83.8 259.5 L84.3 262.48 L85.3 268.42 L86.42 274.3 L87.67 280.1 L88.92 285.1 L90.17 289.3 L90.8 291.4 L91 291.08 L92 293.43 L93 294.83 L94 296.14 L95 297.54 L96 298.36 L97 298.9 L98 299.72 L99 300.07 L100 300.89 L101 301.39 L102 302.93 L103 303.43 L104 303.95 L105 304.45 L106 304.6 L107 304.22 L108 304.37 L109 304.51 L110 304.66 L111 304.8 L112 304.46 L113 304.56 L114 304.25 L115 304.36 L116 304.46 L117 305.23 L118 305.34 L119 305.76 L120 305.76 L121 305.76 L122 304.83 L123 304.84 L124 306.14 L125 306.14 L126 306.15 L127 305.14 L128 305.14 L129 305.14 L130 305.15 L131 305.15 L132 304.81 L133 304.81 L134 306.53 L135 306.53 L136 306.54 L137 306.07 L138 306.07 L139 306.32 L140 306.32 L141 306.33 L142 305.86 L143 305.86 L144 304.82 L145 304.82 L146 304.82 L147 305.36 L148 305.36 L149 305.66 L150 305.67 L151 305.67 L152 304.98 L153 304.99 L154 306.49 L155 306.5 L156 306.5 L157 305.45 L158 305.45 L159 305.07 L160 305.07 L161 305.07 L162 306.27 L163 306.27 L164 305.03 L165 305.03 L166 305.03 L167 306.48 L168 306.48 L169 305.63 L170 305.63 L171 305.63 L172 305.81 L173 305.82 L174 305.44 L175 305.44 L176 305.45 L177 305.7 L178 305.71 L179 305.17 L180 305.17 L181 305.18 L182 304.91 L183 304.91 L184 306.41 L185 306.41 L186 306.41 L187 305.28 L188 305.28 L189 306.26 L190 306.27 L191 306.27 L192 305.24 L193 305.24 L194 306.61 L195 306.62 L196 306.62 L197 306.49 L198 306.49 L199 306.24 L200 306.24 L201 306.24 L202 306.26 L203 306.26 L204 305.94 L205 305.94 L206 305.94 L207 306.21" fill="none" stroke="#d8312c" stroke-width="1.4" stroke-linejoin="round"/>
<path d="M38.5 306 L58.62 306 L98.88 306 L119.25 305.92 L119.75 305.77 L120.25 305.52 L120.75 305.17 L121.25 304.75 L121.75 304.25 L122.25 303.74 L122.75 303.21 L123.25 302.68 L123.75 302.13 L124.25 301.49 L124.75 300.76 L125.25 299.9 L125.75 298.9 L126.25 297.9 L126.75 296.9 L127.25 296.02 L127.75 295.27 L128.25 294.65 L128.75 294.15 L129.25 293.65 L129.75 293.15 L130.25 292.66 L130.75 292.18 L131.25 291.8 L131.75 291.51 L132.25 291.22 L132.75 290.93 L133.25 290.65 L133.75 290.36 L134.25 290.13 L134.75 289.95 L135.25 289.79 L135.75 289.65 L136.25 289.5 L136.75 289.36 L137.25 289.21 L137.75 289.06 L138.25 288.92 L138.75 288.77 L139.25 288.64 L139.75 288.51 L140.25 288.38 L140.75 288.25 L141.25 288.12 L141.75 287.99 L142.25 287.89 L142.75 287.79 L143.25 287.87 L143.75 288.11 L144.25 288.54 L144.75 289.14 L145.25 289.23 L145.75 288.81 L146.25 288.63 L146.75 288.71 L147.25 288.84 L147.75 289.01 L148.25 289.24 L148.75 289.51 L149.25 290.3 L149.75 291.6 L150.25 292.19 L150.75 292.06 L151.25 291.81 L151.75 291.43 L152.25 291.06 L152.75 290.68 L153.25 290.57 L153.75 290.73 L154.25 291.13 L154.75 291.76 L155.25 292.16 L155.75 292.32 L156.25 292.47 L156.75 292.6 L157.25 292.61 L157.75 292.49 L158.25 292.72 L158.75 293.29 L159.25 293.71 L159.75 294 L160.25 294.31 L160.75 294.64 L161.25 294.7 L161.75 294.5 L162.25 294.75 L162.75 295.44 L163.25 295.83 L163.75 295.92 L164.25 296.01 L164.75 296.09 L165.25 296.04 L165.75 295.84 L166.25 296.01 L166.75 296.55 L167.25 296.98 L167.75 297.3 L168.25 297.61 L168.75 297.93 L169.25 298.37 L169.75 298.95 L170.25 299.29 L170.75 299.39 L171.25 299.59 L171.75 299.9 L172.25 300.2 L172.75 300.5 L173.25 300.9 L173.75 301.39 L174.25 301.67 L174.75 301.74 L175.25 301.87 L175.75 302.07 L176.25 302.27 L176.75 302.46 L177.25 302.4 L177.75 302.07 L178.25 302.33 L178.75 303.2 L179.25 303.71 L179.75 303.87 L180.25 304.02 L180.75 304.16 L181.25 304.19 L181.75 304.1 L182.25 304.02 L182.75 303.94 L183.25 303.98 L183.75 304.12 L184.25 304.23 L184.75 304.31 L185.25 304.33 L185.75 304.31 L186.25 304.6 L186.75 305.2 L187.25 305.53 L187.75 305.61 L188.25 305.68 L188.75 305.75 L189.25 305.7 L189.75 305.53 L190.25 305.61 L190.75 305.95 L191.25 306.14 L191.75 306.19 L192.25 306.23 L192.75 306.28 L193.25 306.27 L193.75 306.18 L194.25 306.24 L194.75 306.44 L195.25 306.54 L195.75 306.55 L196.25 306.56 L196.75 306.57 L197.25 306.42 L197.75 306.11 L198.25 306.01 L198.75 306.12 L199.25 306.19 L199.75 306.19 L200.25 306.12 L200.75 305.97 L201.25 305.9 L201.75 305.91 L202.25 305.92 L202.75 305.92 L203.25 305.93 L203.75 305.94 L204.25 305.95 L204.75 305.96 L205.25 305.96 L205.75 305.97 L206.25 305.98 L206.75 305.99 L207 305.99" fill="none" stroke="#111" stroke-width="1.1" stroke-linejoin="round" stroke-dasharray="1.6 0.5"/>
<path d="M38.5 306 L60.12 306 L103.38 306 L125.25 305.96 L125.75 305.88 L126.25 305.75 L126.75 305.58 L127.25 305.34 L127.75 305.03 L128.25 304.72 L128.75 304.41 L129.25 303.94 L129.75 303.32 L130.25 302.59 L130.75 301.77 L131.25 300.94 L131.75 300.11 L132.25 299.28 L132.75 298.46 L133.25 297.63 L133.75 296.8 L134.25 295.97 L134.75 295.14 L135.25 294.39 L135.75 293.7 L136.25 293.02 L136.75 292.37 L137.25 291.71 L137.75 291.06 L138.25 290.51 L138.75 290.07 L139.25 289.65 L139.75 289.23 L140.25 288.82 L140.75 288.41 L141.25 288.11 L141.75 287.93 L142.25 287.75 L142.75 287.57 L143.25 287.41 L143.75 287.27 L144.25 287.2 L144.75 287.2 L145.25 287.2 L145.75 287.2 L146.25 287.2 L146.75 287.2 L147.25 287.2 L147.75 287.2 L148.25 287.2 L148.75 287.2 L149.25 287.2 L149.75 287.2 L150.25 287.2 L150.75 287.2 L151.25 287.24 L151.75 287.32 L152.25 287.45 L152.75 287.62 L153.25 287.78 L153.75 287.95 L154.25 288.12 L154.75 288.28 L155.25 288.43 L155.75 288.57 L156.25 288.69 L156.75 288.81 L157.25 288.92 L157.75 289.04 L158.25 289.15 L158.75 289.27 L159.25 289.38 L159.75 289.5 L160.25 289.65 L160.75 289.84 L161.25 290.03 L161.75 290.24 L162.25 290.45 L162.75 290.65 L163.25 290.86 L163.75 291.07 L164.25 291.28 L164.75 291.5 L165.25 291.73 L165.75 291.99 L166.25 292.26 L166.75 292.52 L167.25 292.78 L167.75 293.04 L168.25 293.3 L168.75 293.56 L169.25 293.82 L169.75 294.1 L170.25 294.38 L170.75 294.67 L171.25 294.96 L171.75 295.25 L172.25 295.55 L172.75 295.84 L173.25 296.13 L173.75 296.42 L174.25 296.84 L174.75 297.38 L175.25 297.75 L175.75 297.96 L176.25 298.17 L176.75 298.37 L177.25 298.59 L177.75 298.82 L178.25 299.01 L178.75 299.18 L179.25 299.35 L179.75 299.5 L180.25 299.66 L180.75 299.8 L181.25 299.66 L181.75 299.24 L182.25 299.28 L182.75 299.79 L183.25 300.11 L183.75 300.26 L184.25 300.4 L184.75 300.55 L185.25 300.63 L185.75 300.66 L186.25 300.79 L186.75 301.01 L187.25 301.19 L187.75 301.34 L188.25 301.49 L188.75 301.64 L189.25 301.68 L189.75 301.59 L190.25 301.66 L190.75 301.9 L191.25 302.11 L191.75 302.3 L192.25 302.46 L192.75 302.59 L193.25 302.74 L193.75 302.9 L194.25 302.89 L194.75 302.72 L195.25 302.62 L195.75 302.6 L196.25 302.59 L196.75 302.57 L197.25 302.63 L197.75 302.78 L198.25 302.7 L198.75 302.41 L199.25 302.27 L199.75 302.29 L200.25 302.31 L200.75 302.33 L201.25 302.37 L201.75 302.43 L202.25 302.69 L202.75 303.15 L203.25 303.41 L203.75 303.45 L204.25 303.51 L204.75 303.57 L205.25 303.53 L205.75 303.38 L206.25 303.37 L206.75 303.5 L207 303.56" fill="none" stroke="#2b2ba6" stroke-width="1.4" stroke-linejoin="round"/>
</g>
<rect x="141.3" y="213.1" width="62" height="28.8" fill="#fff" stroke="#1a1a1a" stroke-width="1"/>
<line x1="144.7" y1="219.8" x2="157.3" y2="219.8" stroke="#777" stroke-width="1.8" stroke-dasharray="1.2 0.6"/>
<text x="159.8" y="222.7" font-size="8.25" text-anchor="start" font-weight="normal" font-style="normal" fill="#1a1a1a" stroke="#1a1a1a" stroke-width="0.15">Resting</text>
<line x1="144.7" y1="227.9" x2="157.3" y2="227.9" stroke="#d65a55" stroke-width="1.8"/>
<text x="159.8" y="230.8" font-size="8.25" text-anchor="start" font-weight="normal" font-style="normal" fill="#1a1a1a" stroke="#1a1a1a" stroke-width="0.15">737</text>
<line x1="144.7" y1="236" x2="157.3" y2="236" stroke="#4a4aa8" stroke-width="1.8"/>
<text x="159.8" y="238.9" font-size="8.25" text-anchor="start" font-weight="normal" font-style="normal" fill="#1a1a1a" stroke="#1a1a1a" stroke-width="0.15">737+QVD</text>
<text x="226" y="193.2" font-size="11.5" text-anchor="start" font-weight="bold" font-style="normal" fill="#000" stroke="#000" stroke-width="0.15">D</text>
<line x1="260.6" y1="210.88" x2="260.6" y2="308" stroke="#1a1a1a" stroke-width="1"/>
<line x1="257.5" y1="308" x2="260.6" y2="308" stroke="#1a1a1a" stroke-width="1"/>
<text x="255.8" y="311.2" font-size="9" text-anchor="end" font-weight="normal" font-style="normal" fill="#1a1a1a" stroke="#1a1a1a" stroke-width="0.15">0</text>
<line x1="257.5" y1="283.72" x2="260.6" y2="283.72" stroke="#1a1a1a" stroke-width="1"/>
<text x="255.8" y="286.92" font-size="9" text-anchor="end" font-weight="normal" font-style="normal" fill="#1a1a1a" stroke="#1a1a1a" stroke-width="0.15">100</text>
<line x1="257.5" y1="259.44" x2="260.6" y2="259.44" stroke="#1a1a1a" stroke-width="1"/>
<text x="255.8" y="262.64" font-size="9" text-anchor="end" font-weight="normal" font-style="normal" fill="#1a1a1a" stroke="#1a1a1a" stroke-width="0.15">200</text>
<line x1="257.5" y1="235.16" x2="260.6" y2="235.16" stroke="#1a1a1a" stroke-width="1"/>
<text x="255.8" y="238.36" font-size="9" text-anchor="end" font-weight="normal" font-style="normal" fill="#1a1a1a" stroke="#1a1a1a" stroke-width="0.15">300</text>
<line x1="257.5" y1="210.88" x2="260.6" y2="210.88" stroke="#1a1a1a" stroke-width="1"/>
<text x="255.8" y="214.08" font-size="9" text-anchor="end" font-weight="normal" font-style="normal" fill="#1a1a1a" stroke="#1a1a1a" stroke-width="0.15">400</text>
<text x="235.5" y="258.9" font-size="9.5" text-anchor="middle" font-weight="normal" font-style="normal" fill="#1a1a1a" stroke="#1a1a1a" stroke-width="0.15" transform="rotate(-90 235.5 258.9)">Peak thrombin (nM)</text>
<rect x="267.5" y="210.8" width="9" height="6.6" fill="#fff" stroke="#1a1a1a" stroke-width="1.1"/>
<text x="279" y="217.2" font-size="8.1" text-anchor="start" font-weight="normal" font-style="normal" fill="#1a1a1a" stroke="#1a1a1a" stroke-width="0.15">Control</text>
<rect x="267.5" y="220.6" width="9" height="6.6" fill="url(#hatch)" stroke="#1a1a1a" stroke-width="1.1"/>
<text x="279" y="227" font-size="8.1" text-anchor="start" font-weight="normal" font-style="normal" fill="#1a1a1a" stroke="#1a1a1a" stroke-width="0.15">737</text>
<rect x="267.5" y="230.4" width="9" height="6.6" fill="#000" stroke="#1a1a1a" stroke-width="1.1"/>
<text x="279" y="236.8" font-size="8.1" text-anchor="start" font-weight="normal" font-style="normal" fill="#1a1a1a" stroke="#1a1a1a" stroke-width="0.15">CRP</text>
<rect x="271.2" y="288.4" width="11.1" height="19.6" fill="#fff" stroke="#1a1a1a" stroke-width="1.1"/>
<line x1="276.75" y1="286" x2="276.75" y2="290.7" stroke="#1a1a1a" stroke-width="1"/>
<line x1="274" y1="286" x2="279.5" y2="286" stroke="#1a1a1a" stroke-width="1"/>
<line x1="274" y1="290.7" x2="279.5" y2="290.7" stroke="#1a1a1a" stroke-width="1"/>
<rect x="287.2" y="256.2" width="10.8" height="51.8" fill="url(#hatch)" stroke="#1a1a1a" stroke-width="1.1"/>
<line x1="292.6" y1="252.8" x2="292.6" y2="259.2" stroke="#1a1a1a" stroke-width="1"/>
<line x1="289.85" y1="252.8" x2="295.35" y2="252.8" stroke="#1a1a1a" stroke-width="1"/>
<line x1="289.85" y1="259.2" x2="295.35" y2="259.2" stroke="#1a1a1a" stroke-width="1"/>
<rect x="302.2" y="288" width="11.1" height="20" fill="url(#hatch)" stroke="#1a1a1a" stroke-width="1.1"/>
<line x1="307.75" y1="279.7" x2="307.75" y2="295.3" stroke="#1a1a1a" stroke-width="1"/>
<line x1="305" y1="279.7" x2="310.5" y2="279.7" stroke="#1a1a1a" stroke-width="1"/>
<line x1="305" y1="295.3" x2="310.5" y2="295.3" stroke="#1a1a1a" stroke-width="1"/>
<rect x="318.3" y="231.1" width="11.1" height="76.9" fill="url(#hatch)" stroke="#1a1a1a" stroke-width="1.1"/>
<line x1="323.85" y1="226.2" x2="323.85" y2="236" stroke="#1a1a1a" stroke-width="1"/>
<line x1="321.1" y1="226.2" x2="326.6" y2="226.2" stroke="#1a1a1a" stroke-width="1"/>
<line x1="321.1" y1="236" x2="326.6" y2="236" stroke="#1a1a1a" stroke-width="1"/>
<rect x="333.6" y="246.6" width="11.3" height="61.4" fill="#000" stroke="#1a1a1a" stroke-width="1.1"/>
<line x1="339.25" y1="244.5" x2="339.25" y2="248.5" stroke="#1a1a1a" stroke-width="1"/>
<line x1="336.5" y1="244.5" x2="342" y2="244.5" stroke="#1a1a1a" stroke-width="1"/>
<line x1="336.5" y1="248.5" x2="342" y2="248.5" stroke="#1a1a1a" stroke-width="1"/>
<rect x="349.2" y="253" width="10.9" height="55" fill="#000" stroke="#1a1a1a" stroke-width="1.1"/>
<line x1="354.65" y1="248" x2="354.65" y2="258" stroke="#1a1a1a" stroke-width="1"/>
<line x1="351.9" y1="248" x2="357.4" y2="248" stroke="#1a1a1a" stroke-width="1"/>
<line x1="351.9" y1="258" x2="357.4" y2="258" stroke="#1a1a1a" stroke-width="1"/>
<rect x="364.4" y="246" width="11.4" height="62" fill="#000" stroke="#1a1a1a" stroke-width="1.1"/>
<line x1="370.1" y1="242.1" x2="370.1" y2="250" stroke="#1a1a1a" stroke-width="1"/>
<line x1="367.35" y1="242.1" x2="372.85" y2="242.1" stroke="#1a1a1a" stroke-width="1"/>
<line x1="367.35" y1="250" x2="372.85" y2="250" stroke="#1a1a1a" stroke-width="1"/>
<line x1="268.75" y1="319.25" x2="377.5" y2="319.25" stroke="#1a1a1a" stroke-width="1.2"/>
<line x1="277" y1="319.25" x2="277" y2="322.3" stroke="#1a1a1a" stroke-width="1.1"/>
<text x="282.7" y="331" font-size="9" text-anchor="end" font-weight="normal" font-style="normal" fill="#1a1a1a" stroke="#1a1a1a" stroke-width="0.15" transform="rotate(-45 282.7 331)">Rest</text>
<line x1="292.5" y1="319.25" x2="292.5" y2="322.3" stroke="#1a1a1a" stroke-width="1.1"/>
<text x="298.2" y="331" font-size="9" text-anchor="end" font-weight="normal" font-style="normal" fill="#1a1a1a" stroke="#1a1a1a" stroke-width="0.15" transform="rotate(-45 298.2 331)">DMSO</text>
<line x1="308" y1="319.25" x2="308" y2="322.3" stroke="#1a1a1a" stroke-width="1.1"/>
<text x="313.7" y="331" font-size="9" text-anchor="end" font-weight="normal" font-style="normal" fill="#1a1a1a" stroke="#1a1a1a" stroke-width="0.15" transform="rotate(-45 313.7 331)">QVD</text>
<line x1="323.25" y1="319.25" x2="323.25" y2="322.3" stroke="#1a1a1a" stroke-width="1.1"/>
<text x="328.95" y="331" font-size="9" text-anchor="end" font-weight="normal" font-style="normal" fill="#1a1a1a" stroke="#1a1a1a" stroke-width="0.15" transform="rotate(-45 328.95 331)">CP</text>
<line x1="338.75" y1="319.25" x2="338.75" y2="322.3" stroke="#1a1a1a" stroke-width="1.1"/>
<text x="344.45" y="331" font-size="9" text-anchor="end" font-weight="normal" font-style="normal" fill="#1a1a1a" stroke="#1a1a1a" stroke-width="0.15" transform="rotate(-45 344.45 331)">DMSO</text>
<line x1="354.5" y1="319.25" x2="354.5" y2="322.3" stroke="#1a1a1a" stroke-width="1.1"/>
<text x="360.2" y="331" font-size="9" text-anchor="end" font-weight="normal" font-style="normal" fill="#1a1a1a" stroke="#1a1a1a" stroke-width="0.15" transform="rotate(-45 360.2 331)">QVD</text>
<line x1="370" y1="319.25" x2="370" y2="322.3" stroke="#1a1a1a" stroke-width="1.1"/>
<text x="375.7" y="331" font-size="9" text-anchor="end" font-weight="normal" font-style="normal" fill="#1a1a1a" stroke="#1a1a1a" stroke-width="0.15" transform="rotate(-45 375.7 331)">CP</text>
<path d="M292.8 247.8 L292.8 244.4 L307.2 244.4 L307.2 266" fill="none" stroke="#1a1a1a" stroke-width="1.1"/>
<circle cx="304.6" cy="272.2" r="0.8" fill="#1a1a1a"/>
<circle cx="307.4" cy="272.2" r="0.8" fill="#1a1a1a"/>
<circle cx="310.2" cy="272.2" r="0.8" fill="#1a1a1a"/>
<path d="M339.1 230.6 L339.1 227.3 L370.2 227.3 L370.2 231 M354.25 227.3 L354.25 234.3" fill="none" stroke="#1a1a1a" stroke-width="1.1"/>
<text x="354.5" y="242.7" font-size="7.2" text-anchor="middle" font-weight="normal" font-style="normal" fill="#1a1a1a" stroke="#1a1a1a" stroke-width="0.15">ns</text>
<text x="370.2" y="237.8" font-size="7.2" text-anchor="middle" font-weight="normal" font-style="normal" fill="#1a1a1a" stroke="#1a1a1a" stroke-width="0.15">ns</text>
<text x="391.5" y="193.7" font-size="11.5" text-anchor="start" font-weight="bold" font-style="normal" fill="#000" stroke="#000" stroke-width="0.15">E</text>
<line x1="432.5" y1="211.75" x2="432.5" y2="308.75" stroke="#1a1a1a" stroke-width="1"/>
<line x1="429.5" y1="308.75" x2="432.5" y2="308.75" stroke="#1a1a1a" stroke-width="1"/>
<text x="426.5" y="311.95" font-size="9" text-anchor="end" font-weight="normal" font-style="normal" fill="#1a1a1a" stroke="#1a1a1a" stroke-width="0.15">0</text>
<line x1="429.5" y1="289.35" x2="432.5" y2="289.35" stroke="#1a1a1a" stroke-width="1"/>
<text x="426.5" y="292.55" font-size="9" text-anchor="end" font-weight="normal" font-style="normal" fill="#1a1a1a" stroke="#1a1a1a" stroke-width="0.15">20</text>
<line x1="429.5" y1="269.95" x2="432.5" y2="269.95" stroke="#1a1a1a" stroke-width="1"/>
<text x="426.5" y="273.15" font-size="9" text-anchor="end" font-weight="normal" font-style="normal" fill="#1a1a1a" stroke="#1a1a1a" stroke-width="0.15">40</text>
<line x1="429.5" y1="250.55" x2="432.5" y2="250.55" stroke="#1a1a1a" stroke-width="1"/>
<text x="426.5" y="253.75" font-size="9" text-anchor="end" font-weight="normal" font-style="normal" fill="#1a1a1a" stroke="#1a1a1a" stroke-width="0.15">60</text>
<line x1="429.5" y1="231.15" x2="432.5" y2="231.15" stroke="#1a1a1a" stroke-width="1"/>
<text x="426.5" y="234.35" font-size="9" text-anchor="end" font-weight="normal" font-style="normal" fill="#1a1a1a" stroke="#1a1a1a" stroke-width="0.15">80</text>
<line x1="429.5" y1="211.75" x2="432.5" y2="211.75" stroke="#1a1a1a" stroke-width="1"/>
<text x="426.5" y="214.95" font-size="9" text-anchor="end" font-weight="normal" font-style="normal" fill="#1a1a1a" stroke="#1a1a1a" stroke-width="0.15">100</text>
<text x="407.3" y="259.7" font-size="9.45" text-anchor="middle" font-weight="normal" font-style="normal" fill="#1a1a1a" stroke="#1a1a1a" stroke-width="0.15" transform="rotate(-90 407.3 259.7)">AnnexinV +ve (% gated)</text>
<rect x="446.4" y="304.7" width="10.5" height="4.05" fill="#fff" stroke="#1a1a1a" stroke-width="1.1"/>
<line x1="451.65" y1="303.5" x2="451.65" y2="306" stroke="#1a1a1a" stroke-width="1"/>
<line x1="448.9" y1="303.5" x2="454.4" y2="303.5" stroke="#1a1a1a" stroke-width="1"/>
<line x1="448.9" y1="306" x2="454.4" y2="306" stroke="#1a1a1a" stroke-width="1"/>
<rect x="460.2" y="242.5" width="10.5" height="66.25" fill="url(#hatch)" stroke="#1a1a1a" stroke-width="1.1"/>
<line x1="465.45" y1="239.7" x2="465.45" y2="245.8" stroke="#1a1a1a" stroke-width="1"/>
<line x1="462.7" y1="239.7" x2="468.2" y2="239.7" stroke="#1a1a1a" stroke-width="1"/>
<line x1="462.7" y1="245.8" x2="468.2" y2="245.8" stroke="#1a1a1a" stroke-width="1"/>
<rect x="475.4" y="302.4" width="10.9" height="6.35" fill="url(#hatch)" stroke="#1a1a1a" stroke-width="1.1"/>
<line x1="480.85" y1="300.6" x2="480.85" y2="305" stroke="#1a1a1a" stroke-width="1"/>
<line x1="478.1" y1="300.6" x2="483.6" y2="300.6" stroke="#1a1a1a" stroke-width="1"/>
<line x1="478.1" y1="305" x2="483.6" y2="305" stroke="#1a1a1a" stroke-width="1"/>
<rect x="490.2" y="240" width="10" height="68.75" fill="url(#hatch)" stroke="#1a1a1a" stroke-width="1.1"/>
<line x1="495.2" y1="239" x2="495.2" y2="241" stroke="#1a1a1a" stroke-width="1"/>
<line x1="492.45" y1="239" x2="497.95" y2="239" stroke="#1a1a1a" stroke-width="1"/>
<line x1="492.45" y1="241" x2="497.95" y2="241" stroke="#1a1a1a" stroke-width="1"/>
<rect x="505.3" y="220.8" width="9.7" height="87.95" fill="url(#hatch)" stroke="#1a1a1a" stroke-width="1.1"/>
<line x1="510.15" y1="219.7" x2="510.15" y2="222" stroke="#1a1a1a" stroke-width="1"/>
<line x1="507.4" y1="219.7" x2="512.9" y2="219.7" stroke="#1a1a1a" stroke-width="1"/>
<line x1="507.4" y1="222" x2="512.9" y2="222" stroke="#1a1a1a" stroke-width="1"/>
<line x1="444.5" y1="319.5" x2="520" y2="319.5" stroke="#1a1a1a" stroke-width="1.2"/>
<line x1="451.25" y1="319.5" x2="451.25" y2="322.5" stroke="#1a1a1a" stroke-width="1.1"/>
<text x="456.75" y="331.3" font-size="9" text-anchor="end" font-weight="normal" font-style="normal" fill="#1a1a1a" stroke="#1a1a1a" stroke-width="0.15" transform="rotate(-45 456.75 331.3)">DMS0</text>
<line x1="466.25" y1="319.5" x2="466.25" y2="322.5" stroke="#1a1a1a" stroke-width="1.1"/>
<text x="471.75" y="331.3" font-size="9" text-anchor="end" font-weight="normal" font-style="normal" fill="#1a1a1a" stroke="#1a1a1a" stroke-width="0.15" transform="rotate(-45 471.75 331.3)">737</text>
<line x1="480.5" y1="319.5" x2="480.5" y2="322.5" stroke="#1a1a1a" stroke-width="1.1"/>
<text x="486" y="331.3" font-size="9" text-anchor="end" font-weight="normal" font-style="normal" fill="#1a1a1a" stroke="#1a1a1a" stroke-width="0.15" transform="rotate(-45 486 331.3)">737+QVD</text>
<line x1="495" y1="319.5" x2="495" y2="322.5" stroke="#1a1a1a" stroke-width="1.1"/>
<text x="500.5" y="331.3" font-size="9" text-anchor="end" font-weight="normal" font-style="normal" fill="#1a1a1a" stroke="#1a1a1a" stroke-width="0.15" transform="rotate(-45 500.5 331.3)">737+CP</text>
<line x1="510" y1="319.5" x2="510" y2="322.5" stroke="#1a1a1a" stroke-width="1.1"/>
<text x="515.5" y="331.3" font-size="9" text-anchor="end" font-weight="normal" font-style="normal" fill="#1a1a1a" stroke="#1a1a1a" stroke-width="0.15" transform="rotate(-45 515.5 331.3)">A23187</text>
<path d="M465.3 235.8 L465.3 231.3 L480.3 231.3 L480.3 286.3" fill="none" stroke="#1a1a1a" stroke-width="1.1"/>
<circle cx="478.2" cy="293" r="0.8" fill="#1a1a1a"/>
<circle cx="481" cy="293" r="0.8" fill="#1a1a1a"/>
<circle cx="483.8" cy="293" r="0.8" fill="#1a1a1a"/>
</g></svg></body></html>
